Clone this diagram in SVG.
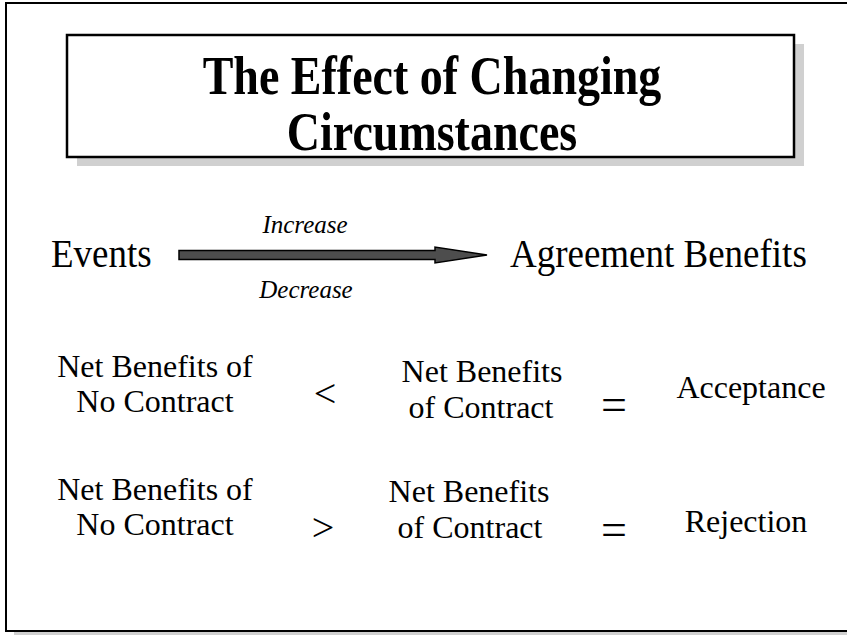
<svg xmlns="http://www.w3.org/2000/svg" width="847" height="635" viewBox="0 0 847 635">
<defs>
<style>
text{font-family:"Liberation Serif","Times New Roman",serif;fill:#000}
.row{font-size:32px;text-anchor:middle}
.op{font-size:40px;text-anchor:middle}
.eq{font-size:46px;text-anchor:middle}
.lab{font-size:25px;font-style:italic;text-anchor:middle}
.big{font-size:37px}
.ttl{font-size:46px;font-weight:bold;text-anchor:middle}
</style>
</defs>
<rect width="847" height="635" fill="#fff"/>
<g id="frame">
<rect x="14" y="632" width="840" height="5" fill="#d0d0d0"/>
<path d="M6,632 V3 H850" fill="none" stroke="#000" stroke-width="2"/>
<path d="M6,631 H850" fill="none" stroke="#000" stroke-width="2"/>
</g>
<g id="title">
<rect x="77" y="44" width="727" height="122" fill="#d0d0d0"/>
<rect x="67" y="35" width="727" height="122" fill="#fff" stroke="#000" stroke-width="2.5"/>
<text class="ttl" transform="translate(432,94) scale(1,1.2)">The Effect of Changing</text>
<text class="ttl" transform="translate(432,150) scale(1,1.2)">Circumstances</text>
</g>
<g id="events"><text class="big" transform="translate(51,267) scale(1,1.1)">Events</text></g>
<g id="agreement"><text class="big" transform="translate(510,267) scale(1,1.1)">Agreement Benefits</text></g>
<g id="connectors">
<path d="M179,250.5 H435 V247 L487,255 L435,263 V259.5 H179 Z" fill="#4d4d4d" stroke="#000" stroke-width="1.5" stroke-linejoin="miter"/>
<text class="lab" x="305" y="233">Increase</text>
<text class="lab" x="306" y="298">Decrease</text>
</g>
<g id="row1">
<g id="r1-left"><text class="row" x="155" y="377">Net Benefits of</text><text class="row" x="155" y="412">No Contract</text></g>
<g id="r1-op"><text class="op" x="325" y="407">&lt;</text></g>
<g id="r1-mid"><text class="row" x="482" y="382">Net Benefits</text><text class="row" x="481" y="418">of Contract</text></g>
<g id="r1-eq"><text class="eq" x="614" y="420">=</text></g>
<g id="r1-right"><text class="row" x="751" y="398">Acceptance</text></g>
</g>
<g id="row2">
<g id="r2-left"><text class="row" x="155" y="500">Net Benefits of</text><text class="row" x="155" y="535">No Contract</text></g>
<g id="r2-op"><text class="op" x="323" y="541">&gt;</text></g>
<g id="r2-mid"><text class="row" x="469" y="502">Net Benefits</text><text class="row" x="470" y="538">of Contract</text></g>
<g id="r2-eq"><text class="eq" x="614" y="545">=</text></g>
<g id="r2-right"><text class="row" x="746" y="532">Rejection</text></g>
</g>
</svg>
